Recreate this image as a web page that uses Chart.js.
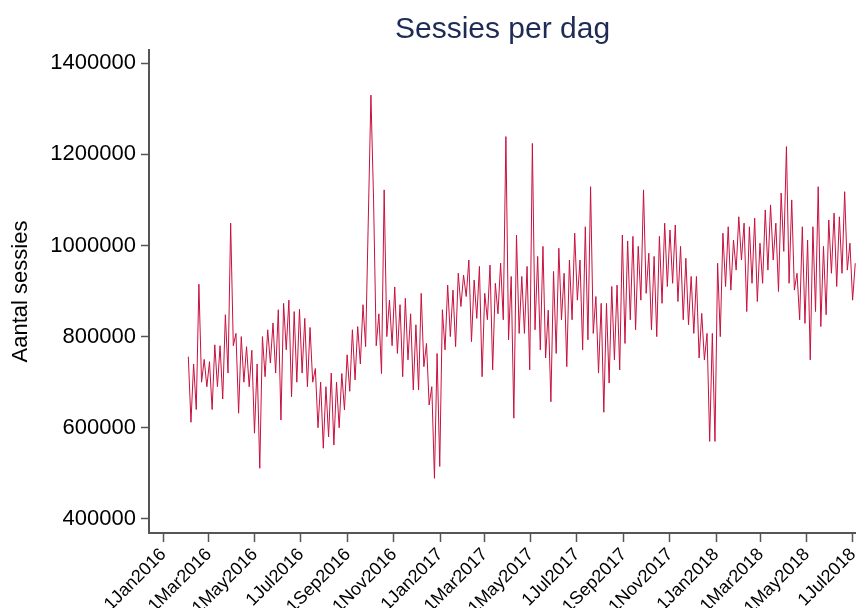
<!DOCTYPE html>
<html>
<head>
<meta charset="utf-8">
<script src="https://cdn.jsdelivr.net/npm/chart.js@4.4.1/dist/chart.umd.min.js"></script>
<style>
    html, body { margin: 0; padding: 0; background: #ffffff; }
    #wrap { width: 856px; height: 608px; position: relative; }
</style>
</head>
<body>
<div id="wrap"><canvas id="sessionsChart"></canvas></div>
<script>
// Axis tick labels (day offset from 1 Jan 2016)
const tickDays = [0, 60, 121, 182, 244, 305, 366, 425, 486, 547, 609, 670, 731, 790, 851, 912];
const tickLabels = ['1Jan2016', '1Mar2016', '1May2016', '1Jul2016', '1Sep2016', '1Nov2016',
    '1Jan2017', '1Mar2017', '1May2017', '1Jul2017', '1Sep2017', '1Nov2017',
    '1Jan2018', '1Mar2018', '1May2018', '1Jul2018'];
const yTicks = [400000, 600000, 800000, 1000000, 1200000, 1400000];

// Series: sessions per day (thousands), read twice a week (mid-week, weekend)
const firstDay = 33;      // 3 Feb 2016
const stepDays = 3.5;
const sessions2016 = [
    756, 612, 740, 640, 915, 700, 750, 690, 745, 640, 782, 690, 780, 663, 848, 720,
    1049, 780, 807, 632, 800, 700, 778, 690, 770, 588, 740, 511, 800, 712, 815, 742,
    830, 720, 859, 617, 873, 771, 880, 668, 855, 700, 860, 720, 840, 690, 820, 700,
    730, 600, 700, 555, 690, 580, 720, 562, 700, 600, 719, 639, 760, 680, 815, 705,
    822, 740, 870, 778, 1056, 1330, 1100, 780, 850, 719, 1122, 800, 880, 780, 909, 763,
    870, 712, 884, 749, 850, 683, 826, 683, 895, 734, 785, 650, 690, 489
];
const sessions2017 = [
    763, 515, 859, 771, 913, 800, 902, 778, 939, 866, 935, 888, 968, 789, 924, 840,
    954, 712, 895, 837, 957, 727, 917, 850, 961, 837, 1239, 793, 932, 621, 1023, 807,
    932, 807, 954, 727, 1224, 815, 976, 771, 998, 753, 858, 657, 943, 763, 994, 837,
    939, 734, 968, 837, 1027, 880, 968, 771, 1041, 793, 1129, 807, 888, 720, 873, 634,
    873, 698, 910, 749, 913, 727, 1023, 785, 1010, 837, 1020, 815, 998, 880, 1122, 895,
    983, 815, 976, 800, 1020, 873, 1049, 910, 1034, 917, 1045, 877, 998, 837, 972, 826,
    932, 807, 932, 753, 851, 749, 807, 570
];
const sessions2018 = [
    807, 570, 961, 800, 1027, 910, 1041, 902, 1012, 946, 1063, 968, 1049, 855, 1041, 917,
    1060, 877, 1005, 917, 1078, 946, 1089, 968, 1049, 899, 1115, 987, 1217, 917, 1100, 902,
    939, 837, 1041, 829, 1012, 749, 1041, 855, 1129, 822, 998, 848, 1056, 939, 1071, 910,
    1063, 939, 1118, 946, 1005, 880, 961
];

const sessions = [...sessions2016, ...sessions2017, ...sessions2018];

const points = sessions.map((v, i) => ({ x: firstDay + i * stepDays, y: v * 1000 }));

const axisColor = '#555555';
const fontFamily = "'Liberation Sans', Arial, sans-serif";

const chart = new Chart(document.getElementById('sessionsChart'), {
    type: 'line',
    data: {
        datasets: [{
            data: points,
            borderColor: '#c8103e',
            borderWidth: 1,
            pointRadius: 0,
            tension: 0,
            fill: false
        }]
    },
    options: {
        responsive: true,
        maintainAspectRatio: false,
        animation: false,
        layout: { padding: 0 },
        plugins: {
            legend: { display: false },
            tooltip: { enabled: false },
            title: {
                display: true,
                text: 'Sessies per dag',
                fullSize: false,
                color: '#1d2b55',
                font: { family: fontFamily, size: 30, weight: 'normal' },
                padding: { top: 12, bottom: 2 }
            }
        },
        scales: {
            x: {
                type: 'linear',
                min: -19,
                max: 916,
                afterBuildTicks: scale => {
                    scale.ticks = tickDays.map(d => ({ value: d }));
                },
                afterFit: scale => {
                    scale.height = 75;
                    scale.paddingLeft = 0;
                    scale.paddingRight = 0;
                },
                grid: {
                    display: true,
                    drawOnChartArea: false,
                    drawTicks: true,
                    tickLength: 9,
                    tickWidth: 1.5,
                    tickColor: axisColor
                },
                border: { display: true, color: axisColor, width: 2 },
                ticks: {
                    autoSkip: false,
                    minRotation: 45,
                    maxRotation: 45,
                    padding: 2,
                    color: '#000000',
                    font: { family: fontFamily, size: 18 },
                    callback: value => tickLabels[tickDays.indexOf(value)]
                }
            },
            y: {
                min: 369000,
                max: 1429000,
                afterBuildTicks: scale => {
                    scale.ticks = yTicks.map(v => ({ value: v }));
                },
                afterFit: scale => {
                    scale.width = 149;
                },
                grid: {
                    display: true,
                    drawOnChartArea: false,
                    drawTicks: true,
                    tickLength: 8,
                    tickWidth: 1.5,
                    tickColor: axisColor
                },
                border: { display: true, color: axisColor, width: 2 },
                ticks: {
                    padding: 5,
                    color: '#000000',
                    font: { family: fontFamily, size: 22 },
                    callback: value => String(value)
                },
                title: {
                    display: true,
                    text: 'Aantal sessies',
                    color: '#000000',
                    font: { family: fontFamily, size: 22 },
                    padding: { top: 8, bottom: 0 }
                }
            }
        }
    }
});
</script>
</body>
</html>
